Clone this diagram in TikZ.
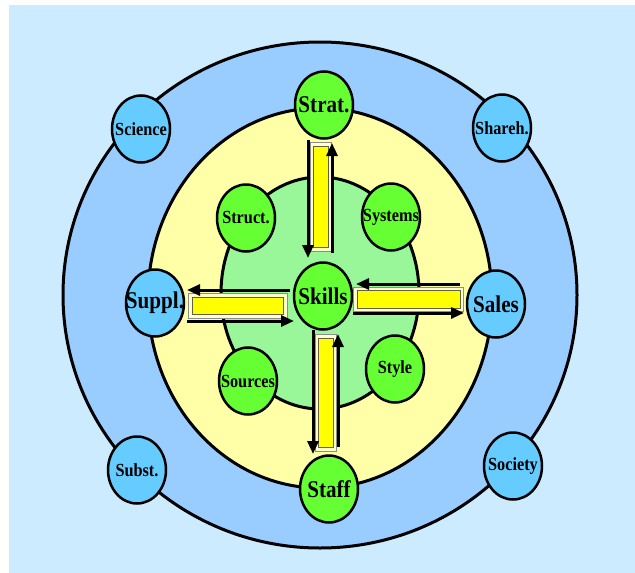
\documentclass[tikz,border=0pt]{standalone}
\usepackage{graphicx}
\usepackage{fontspec}
\setmainfont{Liberation Serif}
\usetikzlibrary{arrows.meta,shapes.geometric}
\newcommand\lbl[1]{\makebox[0pt]{\scalebox{0.88}[1]{#1}}}
\definecolor{bgc}{HTML}{CCEBFF}
\definecolor{ringblue}{HTML}{99CCFF}
\definecolor{ringyellow}{HTML}{FFFFA8}
\definecolor{ringgreen}{HTML}{99F799}
\definecolor{nodegreen}{HTML}{66FF33}
\definecolor{nodeblue}{HTML}{66CCFF}
\definecolor{baryellow}{HTML}{FFFF00}
\definecolor{barframe}{HTML}{FFFFD0}
\tikzset{
  ring/.style={draw=black,line width=3pt},
  gnode/.style={ellipse,draw=black,line width=2.5pt,fill=nodegreen,minimum width=58pt,minimum height=67pt,inner sep=0pt,font=\bfseries\fontsize{24}{24}\selectfont},
  gsmall/.style={gnode,font=\bfseries\fontsize{18.5}{18.5}\selectfont},
  bnode/.style={gnode,fill=nodeblue,font=\bfseries\fontsize{18.5}{18.5}\selectfont},
  bbig/.style={gnode,fill=nodeblue},
  barout/.style={fill=barframe,draw=black!45,line width=0.5pt},
  bar/.style={fill=baryellow,draw=black!70!yellow,line width=1pt},
  arr/.style={line width=3pt,-{Triangle[length=13pt,width=11pt]}}
}
\begin{document}
\begin{tikzpicture}[x=1pt,y=-1pt]
\useasboundingbox (0,0) rectangle (635,573);
\fill[white] (0,0) rectangle (635,573);
\fill[bgc] (9,5) rectangle (635,573);
\draw[ring,fill=ringblue] (320,295) ellipse [x radius=257,y radius=253];
\draw[ring,fill=ringyellow] (320,298) ellipse [x radius=172,y radius=190];
\draw[ring,fill=ringgreen] (320,293) ellipse [x radius=99,y radius=116];
% outer nodes
\node[bnode] (science) at (141,129) {\lbl{Science}};
\node[bnode] (shareh) at (502,128) {\lbl{Shareh.}};
\node[bnode] (subst) at (137,470) {\lbl{Subst.}};
\node[bnode] (society) at (513,466) {\lbl{Society}};
% yellow-ring nodes
\node[gnode] (strat) at (324,105) {\lbl{Strat.}};
\node[gnode] (staff) at (329,489) {\lbl{Staff}};
\node[bbig] (suppl) at (155,303) {\lbl{Suppl.}};
\node[bbig] (sales) at (496,304) {\lbl{Sales}};
% inner nodes
\node[gsmall] (struct) at (246,218) {\lbl{Struct.}};
\node[gsmall] (systems) at (391,217) {\lbl{Systems}};
\node[gsmall] (sources) at (248,381) {\lbl{Sources}};
\node[gsmall] (style) at (395,369) {\lbl{Style}};
\node[gnode] (skills) at (323,296) {\lbl{Skills}};
% bars
\draw[barout] (310,142) rectangle (331,251);
\draw[bar] (313,146) rectangle (328,247);
\draw[barout] (315,334) rectangle (336,451);
\draw[bar] (318,338) rectangle (333,447);
\draw[barout] (188,293) rectangle (287,318);
\draw[bar] (192,297) rectangle (283,314);
\draw[barout] (353,287) rectangle (463,311);
\draw[bar] (357,290) rectangle (460,308);
% arrow end points
\coordinate (t1a) at (308,140); \coordinate (t1b) at (308,258);
\coordinate (t2a) at (332,253); \coordinate (t2b) at (332,143);
\coordinate (b1a) at (313,330); \coordinate (b1b) at (313,454);
\coordinate (b2a) at (338,447); \coordinate (b2b) at (338,334);
\coordinate (l1a) at (290,290); \coordinate (l1b) at (187,290);
\coordinate (l2a) at (187,321); \coordinate (l2b) at (294,321);
\coordinate (r1a) at (460,284); \coordinate (r1b) at (356,284);
\coordinate (r2a) at (353,313); \coordinate (r2b) at (464,313);
\draw[arr] (t1a) -- (t1b);
\draw[arr] (t2a) -- (t2b);
\draw[arr] (b1a) -- (b1b);
\draw[arr] (b2a) -- (b2b);
\draw[arr] (l1a) -- (l1b);
\draw[arr] (l2a) -- (l2b);
\draw[arr] (r1a) -- (r1b);
\draw[arr] (r2a) -- (r2b);
\end{tikzpicture}
\end{document}
